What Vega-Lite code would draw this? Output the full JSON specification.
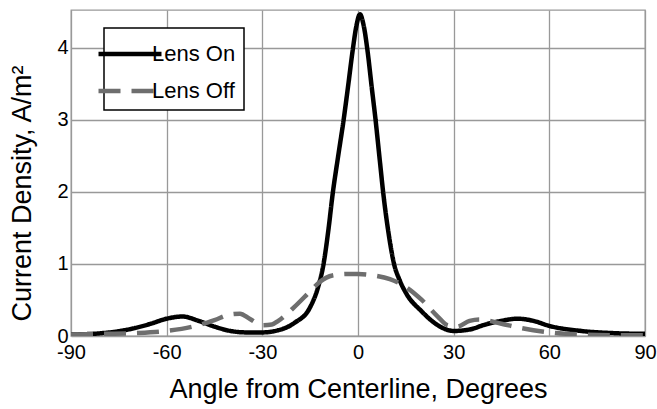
{
  "$schema": "https://vega.github.io/schema/vega-lite/v6.json",
  "width": 574,
  "height": 326,
  "autosize": {"type": "none"},
  "padding": {"left": 71, "top": 10, "right": 12, "bottom": 73},
  "background": "white",
  "config": {
    "font": "Liberation Sans",
    "view": {"stroke": "#999999", "strokeWidth": 1.3},
    "axis": {"gridColor": "#999999", "gridWidth": 1.3, "gridOpacity": 1, "domain": false, "ticks": false, "labelColor": "black", "titleColor": "black", "labelFontSize": 20, "titleFontSize": 27, "titleFontWeight": "normal"},
    "legend": {"strokeColor": "black", "strokeWidth": 1.5}
  },
  "data": {
    "values": [
      {"angle": -90, "density": 0.02, "series": "Lens On"},
      {"angle": -80, "density": 0.04, "series": "Lens On"},
      {"angle": -70, "density": 0.11, "series": "Lens On"},
      {"angle": -65, "density": 0.17, "series": "Lens On"},
      {"angle": -60, "density": 0.24, "series": "Lens On"},
      {"angle": -55, "density": 0.27, "series": "Lens On"},
      {"angle": -50, "density": 0.21, "series": "Lens On"},
      {"angle": -45, "density": 0.13, "series": "Lens On"},
      {"angle": -40, "density": 0.07, "series": "Lens On"},
      {"angle": -35, "density": 0.05, "series": "Lens On"},
      {"angle": -30, "density": 0.05, "series": "Lens On"},
      {"angle": -25, "density": 0.08, "series": "Lens On"},
      {"angle": -20, "density": 0.18, "series": "Lens On"},
      {"angle": -15, "density": 0.4, "series": "Lens On"},
      {"angle": -12.5, "density": 0.68, "series": "Lens On"},
      {"angle": -10.8, "density": 1.0, "series": "Lens On"},
      {"angle": -9.2, "density": 1.5, "series": "Lens On"},
      {"angle": -8, "density": 1.95, "series": "Lens On"},
      {"angle": -6.2, "density": 2.5, "series": "Lens On"},
      {"angle": -4.5, "density": 3.0, "series": "Lens On"},
      {"angle": -3, "density": 3.5, "series": "Lens On"},
      {"angle": -1.7, "density": 3.95, "series": "Lens On"},
      {"angle": -0.5, "density": 4.3, "series": "Lens On"},
      {"angle": 0.6, "density": 4.46, "series": "Lens On"},
      {"angle": 1.8, "density": 4.3, "series": "Lens On"},
      {"angle": 3, "density": 3.95, "series": "Lens On"},
      {"angle": 4.3, "density": 3.45, "series": "Lens On"},
      {"angle": 5.5, "density": 3.0, "series": "Lens On"},
      {"angle": 6.8, "density": 2.45, "series": "Lens On"},
      {"angle": 8, "density": 1.95, "series": "Lens On"},
      {"angle": 9.5, "density": 1.45, "series": "Lens On"},
      {"angle": 11.3, "density": 1.0, "series": "Lens On"},
      {"angle": 13, "density": 0.78, "series": "Lens On"},
      {"angle": 15, "density": 0.6, "series": "Lens On"},
      {"angle": 20, "density": 0.34, "series": "Lens On"},
      {"angle": 25, "density": 0.15, "series": "Lens On"},
      {"angle": 30, "density": 0.07, "series": "Lens On"},
      {"angle": 35, "density": 0.09, "series": "Lens On"},
      {"angle": 40, "density": 0.16, "series": "Lens On"},
      {"angle": 45, "density": 0.21, "series": "Lens On"},
      {"angle": 50, "density": 0.24, "series": "Lens On"},
      {"angle": 55, "density": 0.21, "series": "Lens On"},
      {"angle": 60, "density": 0.14, "series": "Lens On"},
      {"angle": 70, "density": 0.07, "series": "Lens On"},
      {"angle": 80, "density": 0.04, "series": "Lens On"},
      {"angle": 90, "density": 0.03, "series": "Lens On"},
      {"angle": -90, "density": 0.02, "series": "Lens Off"},
      {"angle": -80, "density": 0.03, "series": "Lens Off"},
      {"angle": -70, "density": 0.04, "series": "Lens Off"},
      {"angle": -60, "density": 0.07, "series": "Lens Off"},
      {"angle": -50, "density": 0.15, "series": "Lens Off"},
      {"angle": -45, "density": 0.22, "series": "Lens Off"},
      {"angle": -40, "density": 0.3, "series": "Lens Off"},
      {"angle": -37, "density": 0.31, "series": "Lens Off"},
      {"angle": -34, "density": 0.24, "series": "Lens Off"},
      {"angle": -30, "density": 0.15, "series": "Lens Off"},
      {"angle": -27, "density": 0.16, "series": "Lens Off"},
      {"angle": -25, "density": 0.21, "series": "Lens Off"},
      {"angle": -20, "density": 0.4, "series": "Lens Off"},
      {"angle": -15, "density": 0.62, "series": "Lens Off"},
      {"angle": -12, "density": 0.75, "series": "Lens Off"},
      {"angle": -8, "density": 0.84, "series": "Lens Off"},
      {"angle": -3, "density": 0.86, "series": "Lens Off"},
      {"angle": 0, "density": 0.86, "series": "Lens Off"},
      {"angle": 5, "density": 0.84, "series": "Lens Off"},
      {"angle": 10, "density": 0.79, "series": "Lens Off"},
      {"angle": 15, "density": 0.68, "series": "Lens Off"},
      {"angle": 20, "density": 0.5, "series": "Lens Off"},
      {"angle": 25, "density": 0.27, "series": "Lens Off"},
      {"angle": 28, "density": 0.15, "series": "Lens Off"},
      {"angle": 31, "density": 0.13, "series": "Lens Off"},
      {"angle": 35, "density": 0.21, "series": "Lens Off"},
      {"angle": 38, "density": 0.23, "series": "Lens Off"},
      {"angle": 45, "density": 0.17, "series": "Lens Off"},
      {"angle": 50, "density": 0.12, "series": "Lens Off"},
      {"angle": 55, "density": 0.08, "series": "Lens Off"},
      {"angle": 60, "density": 0.05, "series": "Lens Off"},
      {"angle": 70, "density": 0.02, "series": "Lens Off"},
      {"angle": 80, "density": 0.01, "series": "Lens Off"},
      {"angle": 90, "density": 0.01, "series": "Lens Off"}
    ]
  },
  "mark": {"type": "line", "interpolate": "monotone", "strokeWidth": 4.5, "clip": true},
  "encoding": {
    "x": {
      "field": "angle", "type": "quantitative",
      "scale": {"domain": [-90, 90], "nice": false},
      "axis": {"values": [-90, -60, -30, 0, 30, 60, 90], "title": "Angle from Centerline, Degrees", "labelExpr": "'' + datum.value", "labelPadding": 6, "titlePadding": 14, "labelFlush": false}
    },
    "y": {
      "field": "density", "type": "quantitative",
      "scale": {"domain": [0, 4.52], "nice": false},
      "axis": {"values": [0, 1, 2, 3, 4], "title": "Current Density, A/m²", "labelPadding": 3, "titlePadding": 20, "titleY": 183, "labelFlush": false}
    },
    "color": {
      "field": "series", "type": "nominal",
      "scale": {"domain": ["Lens On", "Lens Off"], "range": ["#000000", "#6e6e6e"]},
      "legend": {
        "title": null, "orient": "none", "legendX": 33, "legendY": 18,
        "fillColor": "white", "strokeColor": "black",
        "padding": 8, "symbolType": "M-2,0L2,0", "symbolSize": 992, "symbolStrokeWidth": 4.5,
        "labelFontSize": 22, "labelColor": "black", "labelOffset": 4, "rowPadding": 8,
        "labelExpr": "'\u00a0\u00a0' + datum.label"
      }
    },
    "strokeDash": {
      "field": "series", "type": "nominal",
      "scale": {"domain": ["Lens On", "Lens Off"], "range": [[1, 0], [22, 11]]},
      "legend": null
    }
  }
}
